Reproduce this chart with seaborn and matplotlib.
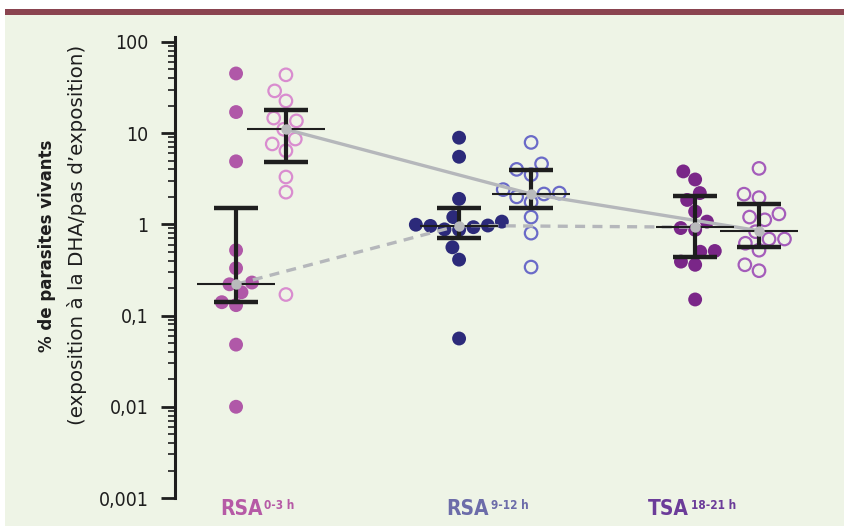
import numpy as np
import pandas as pd
import matplotlib
matplotlib.use("Agg")
import matplotlib.pyplot as plt
from matplotlib import font_manager
from matplotlib.patches import Rectangle
from matplotlib.ticker import FixedLocator, FixedFormatter, LogLocator, NullFormatter
import seaborn as sns

# data (% of surviving parasites)
groups = ["RSA 0-3 h", "RSA 9-12 h", "TSA 18-21 h"]
label_main = ["RSA", "RSA", "TSA"]
label_sup = ["0-3 h", "9-12 h", "18-21 h"]

filled_vals = {
    "RSA 0-3 h": [45, 17, 4.9, 0.52, 0.33, 0.23, 0.22, 0.18, 0.14, 0.13, 0.048, 0.01],
    "RSA 9-12 h": [8.9, 5.5, 1.9, 1.2, 1.07, 0.99, 0.97, 0.96, 0.93, 0.88, 0.87, 0.56, 0.41, 0.056],
    "TSA 18-21 h": [3.8, 3.1, 2.2, 1.85, 1.38, 1.07, 0.91, 0.87, 0.51, 0.50, 0.39, 0.36, 0.15],
}
open_vals = {
    "RSA 0-3 h": [43.5, 29, 22.5, 14.6, 13.6, 11, 8.6, 7.6, 6.4, 3.3, 2.25, 0.17],
    "RSA 9-12 h": [7.9, 4.6, 4.0, 3.5, 2.4, 2.2, 2.15, 2.0, 1.75, 1.2, 0.8, 0.34],
    "TSA 18-21 h": [4.1, 2.14, 1.96, 1.3, 1.2, 1.12, 0.83, 0.69, 0.69, 0.62, 0.52, 0.36, 0.31],
}

# median and interquartile range
filled_med = [0.22, 0.97, 0.93]
filled_lo = [0.142, 0.71, 0.44]
filled_hi = [1.5, 1.5, 2.06]
open_med = [11, 2.15, 0.85]
open_lo = [4.8, 1.5, 0.57]
open_hi = [18, 3.95, 1.67]

ytick_vals = [0.001, 0.01, 0.1, 1, 10, 100]
ytick_labels = ["0,001", "0,01", "0,1", "1", "10", "100"]

# colours
filled_colors = ["#b058a8", "#2c2a7a", "#7a2688"]
open_colors = ["#d98ccf", "#6a6ac8", "#a45cba"]
label_colors = ["#b65aa6", "#6c6ca9", "#6b3c99"]
gray = "#b5b7bb"

# layout (x in "group" units)
pos_filled = [-0.107, 0.85, 1.863]
pos_open = [0.107, 1.159, 2.137]
label_x = [-0.176, 0.797, 1.661]

plt.rcParams["font.family"] = ["DejaVu Sans"]


def narrow_font(weight="normal"):
    # look for a condensed face, fall back to plain DejaVu Sans
    for f in font_manager.fontManager.ttflist:
        n = f.name.lower()
        cond = ("narrow" in n or "condensed" in n or f.stretch in ("condensed", "semi-condensed", 75, 87.5)
                or "condensed" in f.fname.lower() or "narrow" in f.fname.lower())
        bold = f.weight in ("bold", 700) or "bold" in f.fname.lower()
        if cond and "oblique" not in f.fname.lower() and "italic" not in f.fname.lower() \
                and bold == (weight == "bold") and "mono" not in n and "serif" not in n.replace("sans", ""):
            return font_manager.FontProperties(fname=f.fname)
    return font_manager.FontProperties(family="DejaVu Sans", weight=weight)


fp_reg = narrow_font("normal")
fp_bold = narrow_font("bold")

W, H = 845, 526
fig = plt.figure(figsize=(W / 100, H / 100), dpi=100, facecolor="white")
fig.patches.append(Rectangle((5 / W, 0), 1, (H - 15) / H, transform=fig.transFigure,
                             facecolor="#eef4e6", edgecolor="none", zorder=-10))
fig.patches.append(Rectangle((5 / W, (H - 15) / H), 1, 6 / H, transform=fig.transFigure,
                             facecolor="#8a4450", edgecolor="none", zorder=-10))

ax = fig.add_axes([175 / W, 28 / H, 1 - 175 / W, (498 - 37) / H])
ax.patch.set_alpha(0)
ax.set_yscale("log")
ax.set_ylim(0.001, 113)
ax.set_xlim(-0.369, 2.506)

# build tables for seaborn
rows_f = [(pos_filled[i], v, g) for i, g in enumerate(groups) for v in filled_vals[g]]
rows_o = [(pos_open[i], v, g) for i, g in enumerate(groups) for v in open_vals[g]]
df_f = pd.DataFrame(rows_f, columns=["x", "value", "group"])
df_o = pd.DataFrame(rows_o, columns=["x", "value", "group"])

sns.swarmplot(data=df_f, x="x", y="value", hue="group", hue_order=groups,
              palette=dict(zip(groups, filled_colors)), native_scale=True,
              size=10, linewidth=0, legend=False, ax=ax, zorder=2)
n_before = len(ax.collections)
sns.swarmplot(data=df_o, x="x", y="value", hue="group", hue_order=groups,
              palette=dict(zip(groups, open_colors)), native_scale=True,
              size=9, linewidth=0, legend=False, ax=ax, zorder=2)
for coll in ax.collections[n_before:]:
    fc = coll.get_facecolors()
    coll.set_edgecolors(fc)
    coll.set_facecolors("none")
    coll.set_linewidth(1.6)

# connecting lines between medians
ax.plot(pos_open, open_med, color=gray, lw=2.4, zorder=3, solid_capstyle="round")
ax.plot(pos_filled, filled_med, color=gray, lw=2.4, ls=(0, (3, 2.2)), zorder=3)

# median + IQR bars
for pos, med, lo, hi in [(pos_filled, filled_med, filled_lo, filled_hi),
                         (pos_open, open_med, open_lo, open_hi)]:
    for x, m, l, h in zip(pos, med, lo, hi):
        ax.vlines(x, l, h, color="#1e1e1e", lw=3.0, zorder=4)
        ax.hlines([l, h], x - 0.094, x + 0.094, color="#1e1e1e", lw=3.2, zorder=4)
        ax.hlines(m, x - 0.167, x + 0.167, color="#1e1e1e", lw=1.5, zorder=4)
    ax.plot(pos, med, "o", color="#b9babc", ms=7.5, mec="none", zorder=5)

# axes styling
for s in ["top", "right", "bottom"]:
    ax.spines[s].set_visible(False)
ax.spines["left"].set_linewidth(2.2)
ax.spines["left"].set_color("#1e1e1e")
ax.yaxis.set_major_locator(FixedLocator(ytick_vals))
ax.yaxis.set_major_formatter(FixedFormatter(ytick_labels))
ax.yaxis.set_minor_locator(LogLocator(base=10, subs=np.arange(2, 10), numticks=20))
ax.yaxis.set_minor_formatter(NullFormatter())
ax.tick_params(axis="y", which="major", length=10, width=2, color="#1e1e1e", pad=9,
               labelsize=13.5, labelcolor="#1e1e1e")
ax.tick_params(axis="y", which="minor", length=5, width=1.2, color="#1e1e1e")
for t in ax.get_yticklabels():
    t.set_fontproperties(fp_reg)
    t.set_fontsize(14)
ax.set_xticks([])
ax.set_xlabel("")
ax.set_ylabel("")

# y label (two lines)
fig.text(47 / W, 1 - 246 / H, "% de parasites vivants", rotation=90, ha="center",
         va="center", fontsize=12, fontweight="bold", color="#1e1e1e")
fig.text(77 / W, 1 - 235 / H, "(exposition à la DHA/pas d\u2019exposition)", rotation=90,
         ha="center", va="center", fontsize=14.3, color="#1e1e1e")

# group labels with superscripts
for i in range(len(groups)):
    main = ax.annotate(label_main[i], xy=(label_x[i], 0), xycoords=("data", "axes fraction"),
                       xytext=(0, -12.5), textcoords="offset points", ha="left", va="baseline",
                       fontproperties=fp_bold, color=label_colors[i])
    main.set_fontsize(15)
    sup = ax.annotate(label_sup[i], xy=(1, 1), xycoords=main, xytext=(1.2, 0.5),
                      textcoords="offset points", ha="left", va="top",
                      fontproperties=fp_bold, color=label_colors[i])
    sup.set_fontsize(8.5)

fig.savefig("out.png", dpi=100, facecolor="white")
